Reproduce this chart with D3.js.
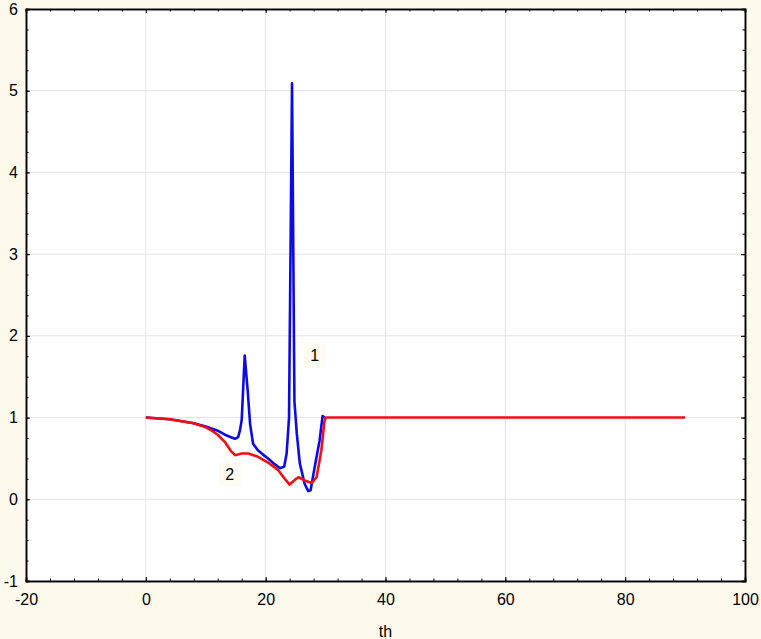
<!DOCTYPE html>
<html>
<head>
<meta charset="utf-8">
<script src="https://cdn.jsdelivr.net/npm/d3@7"></script>
<style>
  body { margin: 0; background: #fdf9ec; }
  svg { display: block; font-family: "Liberation Sans", Arial, sans-serif; }
</style>
</head>
<body>
<script>
// curve 1 (blue) - its flat tail lies under curve 2
const th1 = [0, 4, 8, 10, 12, 13.2, 14.2, 14.9, 15.4, 15.7, 16.0, 16.5, 17.0, 17.4, 17.9, 18.7, 19.5, 20.4, 21.5, 22.4, 23.1, 23.5, 23.9, 24.4, 24.8, 25.2, 25.7, 26.5, 27.1, 27.5, 28.2, 29.0, 29.5, 29.8];
const v1  = [1, 0.98, 0.93, 0.89, 0.84, 0.79, 0.76, 0.74, 0.76, 0.84, 0.97, 1.76, 1.33, 0.92, 0.68, 0.60, 0.55, 0.50, 0.43, 0.38, 0.40, 0.56, 1.0, 5.09, 1.2, 0.8, 0.44, 0.19, 0.10, 0.11, 0.40, 0.72, 1.02, 1.0];

// curve 2 (red)
const th2 = [0, 4, 8, 10, 11, 12, 13.2, 14.2, 14.9, 16.0, 17.1, 18.7, 20.4, 22.1, 23.2, 24.0, 24.9, 25.5, 26.5, 27.7, 28.5, 29.3, 29.8, 30, 60, 90];
const v2  = [1, 0.98, 0.93, 0.88, 0.84, 0.79, 0.70, 0.59, 0.54, 0.56, 0.56, 0.52, 0.45, 0.355, 0.25, 0.18, 0.24, 0.27, 0.23, 0.20, 0.27, 0.60, 0.95, 1.0, 1.0, 1.0];

const xTicks = [-20, 0, 20, 40, 60, 80, 100];
const yTicks = [-1, 0, 1, 2, 3, 4, 5, 6];
const xMinor = d3.range(-20, 100.01, 4);
const yMinor = d3.range(-1, 6.01, 0.25);

const curveLabels = [
  {text: "1", th: 28.2, v: 1.76},
  {text: "2", th: 14.0, v: 0.31}
];

const W = 761, H = 639;
const L = 26, R = 745, T = 9, B = 581;

const svg = d3.select("body").append("svg")
  .attr("width", W).attr("height", H);

svg.append("rect").attr("width", W).attr("height", H).attr("fill", "#fdf9ec");
svg.append("rect").attr("x", L).attr("y", T).attr("width", R - L).attr("height", B - T).attr("fill", "#ffffff");

const x = d3.scaleLinear().domain([-20, 100]).range([L, R]);
const y = d3.scaleLinear().domain([-1, 6]).range([B, T]);

// grid
svg.append("g").selectAll("line").data(xTicks).join("line")
  .attr("x1", d => x(d)).attr("x2", d => x(d))
  .attr("y1", T).attr("y2", B)
  .attr("stroke", "#e3e3e3").attr("stroke-width", 1);
svg.append("g").selectAll("line").data(yTicks).join("line")
  .attr("x1", L).attr("x2", R)
  .attr("y1", d => y(d)).attr("y2", d => y(d))
  .attr("stroke", "#e3e3e3").attr("stroke-width", 1);

// curves
const line = d3.line().x(d => x(d[0])).y(d => y(d[1]));
svg.append("path")
  .datum(th1.map((t, i) => [t, v1[i]]))
  .attr("d", line)
  .attr("fill", "none").attr("stroke", "#0b0be8").attr("stroke-width", 2.6)
  .attr("stroke-linejoin", "round");
svg.append("path")
  .datum(th2.map((t, i) => [t, v2[i]]))
  .attr("d", line)
  .attr("fill", "none").attr("stroke", "#f01010").attr("stroke-width", 2.6)
  .attr("stroke-linejoin", "round");

// curve labels
const lab = svg.append("g").selectAll("g").data(curveLabels).join("g")
  .attr("transform", d => `translate(${x(d.th)},${y(d.v)})`);
lab.append("rect")
  .attr("x", -11).attr("y", -12).attr("width", 22).attr("height", 24)
  .attr("fill", "#fdf9ec").attr("opacity", 0.85);
lab.append("text")
  .attr("text-anchor", "middle").attr("dy", "0.35em")
  .attr("font-size", 16).attr("fill", "#000")
  .text(d => d.text);

// axes: major and minor ticks, pointing inward
function styleAxis(g) {
  g.select(".domain").attr("stroke", "#000").attr("stroke-width", 1.5);
  g.selectAll(".tick line").attr("stroke", "#000");
  g.selectAll(".tick text").attr("font-size", 16).attr("fill", "#000")
    .attr("font-family", "Liberation Sans, Arial, sans-serif");
}

svg.append("g").attr("transform", `translate(0,${B})`)
  .call(d3.axisBottom(x).tickValues(xMinor).tickSize(-2.5).tickFormat(""))
  .call(styleAxis);
svg.append("g").attr("transform", `translate(0,${B})`)
  .call(d3.axisBottom(x).tickValues(xTicks).tickSize(-4).tickPadding(13).tickFormat(d3.format("d")))
  .call(styleAxis)
  .call(g => g.selectAll(".tick text").text(d => d < 0 ? "-" + Math.abs(d) : d));

svg.append("g").attr("transform", `translate(0,${T})`)
  .call(d3.axisTop(x).tickValues(xMinor).tickSize(-2.5).tickFormat(""))
  .call(styleAxis);
svg.append("g").attr("transform", `translate(0,${T})`)
  .call(d3.axisTop(x).tickValues(xTicks).tickSize(-4).tickFormat(""))
  .call(styleAxis);

svg.append("g").attr("transform", `translate(${L},0)`)
  .call(d3.axisLeft(y).tickValues(yMinor).tickSize(-2.5).tickFormat(""))
  .call(styleAxis);
svg.append("g").attr("transform", `translate(${L},0)`)
  .call(d3.axisLeft(y).tickValues(yTicks).tickSize(-4).tickPadding(8).tickFormat(d3.format("d")))
  .call(styleAxis)
  .call(g => g.selectAll(".tick text").text(d => d < 0 ? "-" + Math.abs(d) : d));

svg.append("g").attr("transform", `translate(${R},0)`)
  .call(d3.axisRight(y).tickValues(yMinor).tickSize(-2.5).tickFormat(""))
  .call(styleAxis);
svg.append("g").attr("transform", `translate(${R},0)`)
  .call(d3.axisRight(y).tickValues(yTicks).tickSize(-4).tickFormat(""))
  .call(styleAxis);

// axis title
svg.append("text")
  .attr("x", x(40)).attr("y", 637)
  .attr("text-anchor", "middle")
  .attr("font-size", 16)
  .text("th");
</script>
</body>
</html>
